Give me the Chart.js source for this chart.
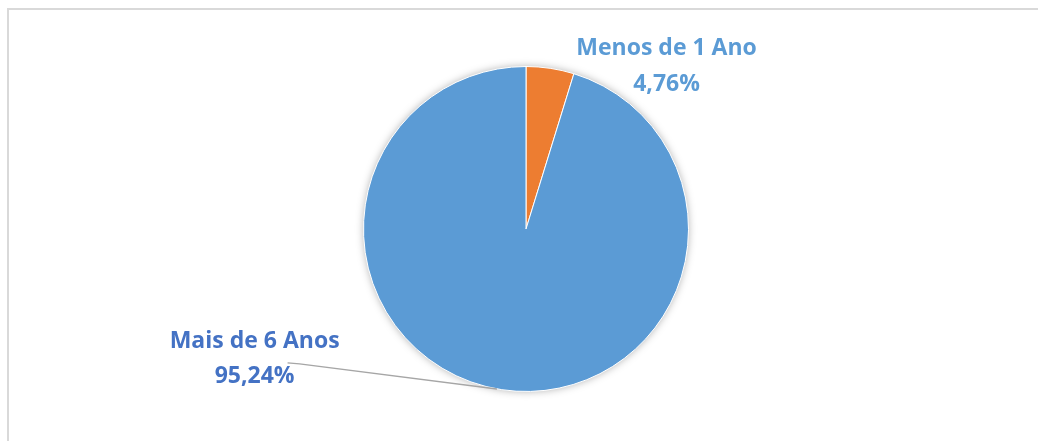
<!DOCTYPE html>
<html>
<head>
<meta charset="utf-8">
<script src="https://cdn.jsdelivr.net/npm/chart.js@4.4.1/dist/chart.umd.min.js"></script>
<style>
  html, body { margin: 0; padding: 0; background: #fff; }
  #wrap { position: relative; width: 1038px; height: 441px; }
  #frame { position: absolute; left: 7px; top: 8px; right: 0; bottom: 0; border-top: 2px solid #d9d9d9; border-left: 2px solid #d9d9d9; pointer-events: none; }
  canvas { position: absolute; left: 0; top: 0; }
</style>
</head>
<body>
<div id="wrap">
  <canvas id="c" width="1038" height="441"></canvas>
  <div id="frame"></div>
</div>
<script>
const categories = ["Menos de 1 Ano", "Mais de 6 Anos"];
const values = [4.76, 95.24];
const valueLabels = ["4,76%", "95,24%"];
const sliceColors = ["#ED7D31", "#5B9BD5"];
const labelColors = ["#5B9BD5", "#4472C4"];

// label placement relative to pie center, in units of radius
const labelOffsets = [
  { dx: 0.865, dy1: -1.11, dy2: -0.89 },
  { dx: -1.67, dy1: 0.69, dy2: 0.91 }
];

const FONT = '"Open Sans", "Liberation Sans", sans-serif';

const shadowPlugin = {
  id: 'pieShadow',
  beforeDatasetsDraw(chart) {
    const arc = chart.getDatasetMeta(0).data[0];
    if (!arc) return;
    const ctx = chart.ctx;
    ctx.save();
    ctx.shadowColor = 'rgba(0,0,0,0.35)';
    ctx.shadowBlur = 9;
    ctx.fillStyle = '#5B9BD5';
    ctx.beginPath();
    ctx.arc(arc.x, arc.y, arc.outerRadius - 0.5, 0, Math.PI * 2);
    ctx.fill();
    ctx.restore();
  }
};

const labelPlugin = {
  id: 'pieLabels',
  afterDatasetsDraw(chart) {
    const meta = chart.getDatasetMeta(0);
    const ctx = chart.ctx;
    const a0 = meta.data[0];
    const cx = a0.x, cy = a0.y, r = a0.outerRadius;
    ctx.save();
    ctx.textAlign = 'center';
    ctx.textBaseline = 'middle';
    ctx.font = 'bold 23px ' + FONT;
    const pos = [];
    categories.forEach((cat, i) => {
      const o = labelOffsets[i];
      const x = cx + o.dx * r;
      ctx.fillStyle = labelColors[i];
      ctx.fillText(cat, x, cy + o.dy1 * r);
      ctx.fillText(valueLabels[i], x, cy + o.dy2 * r);
      pos.push({ x, y2: cy + o.dy2 * r, w: ctx.measureText(valueLabels[i]).width });
    });
    // leader line for the big slice
    const big = meta.data[1];
    const p = pos[1];
    const ang = -Math.PI / 2 + (190.3 / 180) * Math.PI;
    const ex = big.x + Math.cos(ang) * big.outerRadius;
    const ey = big.y + Math.sin(ang) * big.outerRadius;
    const sx = p.x + p.w / 2 - 7;
    const sy = p.y2 - 14;
    ctx.strokeStyle = '#a6a6a6';
    ctx.lineWidth = 1.5;
    ctx.beginPath();
    ctx.moveTo(sx, sy);
    ctx.lineTo(sx + 12, sy + 1);
    ctx.lineTo(ex, ey);
    ctx.stroke();
    ctx.restore();
  }
};

new Chart(document.getElementById('c'), {
  type: 'pie',
  data: {
    labels: categories,
    datasets: [{
      data: values,
      backgroundColor: sliceColors,
      borderColor: '#ffffff',
      borderWidth: 1
    }]
  },
  options: {
    responsive: false,
    animation: false,
    layout: { padding: { top: 66, bottom: 49, left: 14, right: 0 } },
    plugins: {
      legend: { display: false },
      tooltip: { enabled: false },
      title: { display: false }
    }
  },
  plugins: [shadowPlugin, labelPlugin]
});
</script>
</body>
</html>
